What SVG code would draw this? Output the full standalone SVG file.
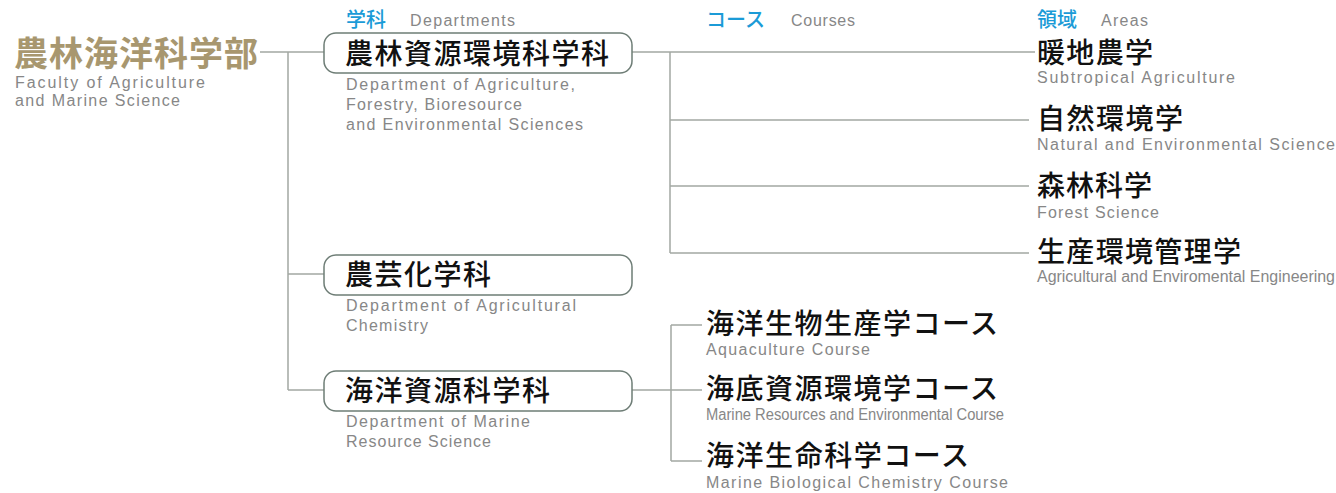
<svg xmlns="http://www.w3.org/2000/svg" width="1336" height="493" viewBox="0 0 1336 493">
<style>
.jp{font-family:"Noto Sans CJK JP","Noto Sans",sans-serif;fill:#111;font-size:28px;font-weight:500}
.ti{font-family:"Noto Sans CJK JP",sans-serif;fill:#a8976f;font-size:34px;font-weight:bold}
.hd{font-family:"Noto Sans CJK JP",sans-serif;fill:#1b9bd7;font-size:20px;font-weight:500}
.en{font-family:"Liberation Sans","DejaVu Sans",sans-serif;fill:#878787;font-size:16px}
.box{fill:#fff;stroke:#6e7d76;stroke-width:1.5}
.ln{stroke:#a3a8a3;stroke-width:1.5;fill:none}
</style>
<rect width="1336" height="493" fill="#fff"/>
<g id="connectors">
<path class="ln" d="M260 52H324M288 52V390M288 274H324M288 390H324"/>
<path class="ln" d="M632 52H1035M670 52V253M670 120H1029M670 186H1029M670 253H1029"/>
<path class="ln" d="M632 390H671M671 325V461M671 325H702M671 390H702M671 461H702"/>
</g>
<g id="faculty">
<text class="ti" x="14" y="66" textLength="244">農林海洋科学部</text>
<text class="en" x="15" y="88" textLength="190">Faculty of Agriculture</text>
<text class="en" x="15" y="106" textLength="165">and Marine Science</text>
</g>
<g id="headers">
<text class="hd" x="346" y="27">学科</text>
<text class="en" x="410" y="26" textLength="105">Departments</text>
<text class="hd" x="706" y="27">コース</text>
<text class="en" x="791" y="26" textLength="64">Courses</text>
<text class="hd" x="1037" y="27">領域</text>
<text class="en" x="1101" y="26" textLength="47">Areas</text>
</g>
<g id="dept1">
<rect class="box" x="324" y="33" width="308" height="40" rx="12"/>
<text class="jp" x="345" y="64" textLength="264">農林資源環境科学科</text>
<text class="en" x="346" y="90" textLength="229">Department of Agriculture,</text>
<text class="en" x="346" y="110" textLength="176">Forestry, Bioresource</text>
<text class="en" x="346" y="130" textLength="237">and Environmental Sciences</text>
</g>
<g id="dept2">
<rect class="box" x="324" y="255" width="308" height="40" rx="12"/>
<text class="jp" x="345" y="285" textLength="146">農芸化学科</text>
<text class="en" x="346" y="311" textLength="230">Department of Agricultural</text>
<text class="en" x="346" y="331" textLength="82">Chemistry</text>
</g>
<g id="dept3">
<rect class="box" x="324" y="371" width="308" height="40" rx="12"/>
<text class="jp" x="345" y="401" textLength="205">海洋資源科学科</text>
<text class="en" x="346" y="427" textLength="184">Department of Marine</text>
<text class="en" x="346" y="447" textLength="145">Resource Science</text>
</g>
<g id="area1">
<text class="jp" x="1037" y="63" textLength="116">暖地農学</text>
<text class="en" x="1037" y="83" textLength="198">Subtropical Agriculture</text>
</g>
<g id="area2">
<text class="jp" x="1037" y="129" textLength="146">自然環境学</text>
<text class="en" x="1037" y="150" textLength="298">Natural and Environmental Science</text>
</g>
<g id="area3">
<text class="jp" x="1037" y="196" textLength="115">森林科学</text>
<text class="en" x="1037" y="218" textLength="122">Forest Science</text>
</g>
<g id="area4">
<text class="jp" x="1037" y="262" textLength="204">生産環境管理学</text>
<text class="en" x="1037" y="282" textLength="298" lengthAdjust="spacingAndGlyphs">Agricultural and Enviromental Engineering</text>
</g>
<g id="course1">
<text class="jp" x="706" y="334" textLength="292">海洋生物生産学コース</text>
<text class="en" x="706" y="355" textLength="164">Aquaculture Course</text>
</g>
<g id="course2">
<text class="jp" x="706" y="399" textLength="292">海底資源環境学コース</text>
<text class="en" x="706" y="420" textLength="298" lengthAdjust="spacingAndGlyphs">Marine Resources and Environmental Course</text>
</g>
<g id="course3">
<text class="jp" x="706" y="466" textLength="263">海洋生命科学コース</text>
<text class="en" x="706" y="488" textLength="302">Marine Biological Chemistry Course</text>
</g>
</svg>
